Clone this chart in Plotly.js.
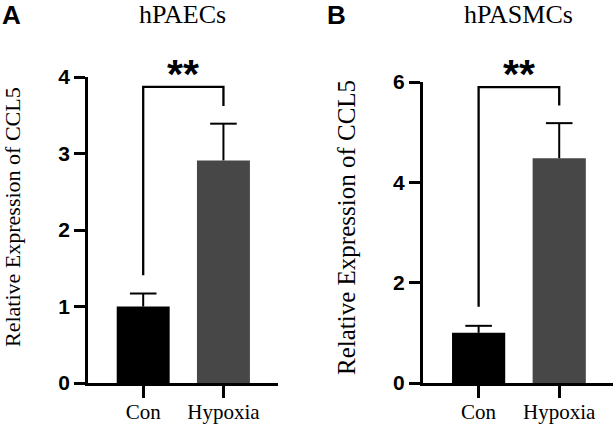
<!DOCTYPE html>
<html>
<head>
<meta charset="utf-8">
<script src="https://cdn.plot.ly/plotly-3.0.1.min.js"></script>
<style>
  html, body { margin: 0; padding: 0; background: #fff; }
  #chart { width: 616px; height: 426px; }
</style>
</head>
<body>
<div id="chart"></div>
<script>
// Relative CCL5 expression, control vs hypoxia (mean and SD)
const groups = ['Con', 'Hypoxia'];

const paecMean = [1.00, 2.91];
const paecSD   = [0.17, 0.48];
const paecTicks = [0, 1, 2, 3, 4];

const pasmcMean = [1.00, 4.48];
const pasmcSD   = [0.14, 0.70];
const pasmcTicks = [0, 2, 4, 6];

// significance brackets: [left leg bottom, bracket top, right leg bottom, star level]
const paecBracket  = [1.41, 3.87, 3.62, 4.12];
const pasmcBracket = [1.52, 5.90, 5.53, 6.27];
const sigLabel = '**';

const barColors = ['#000000', '#474747'];
const serif = 'Liberation Serif, Times New Roman, serif';
const sans = 'Liberation Sans, Arial, sans-serif';

const domA = [0.1009, 0.8192];
const domB = [0.1009, 0.8075];
const starSize = 41;

function barTrace(mean, xa, ya) {
  return {
    type: 'bar',
    x: groups,
    y: mean,
    xaxis: xa,
    yaxis: ya,
    width: 0.66,
    marker: { color: barColors, line: { width: 0 } },
    showlegend: false,
    hoverinfo: 'x+y'
  };
}

// upper SD whisker: a cap marker at mean+SD with a capless stem running down to the bar top
function sdTrace(mean, sd, xa, ya) {
  return {
    type: 'scatter', mode: 'markers',
    x: groups,
    y: mean.map((m, i) => m + sd[i]),
    xaxis: xa,
    yaxis: ya,
    marker: { symbol: 'line-ew', size: 19, color: '#000', line: { width: 2, color: '#000' } },
    error_y: {
      type: 'data', symmetric: false, array: [0, 0], arrayminus: sd,
      color: '#000', thickness: 2, width: 0
    },
    cliponaxis: false,
    showlegend: false,
    hoverinfo: 'skip'
  };
}

function bracketShape(b, xr, yr) {
  return {
    type: 'path', xref: xr, yref: yr,
    path: `M 0,${b[0]} L 0,${b[1]} L 1,${b[1]} L 1,${b[2]}`,
    line: { color: '#000', width: 2.3 }
  };
}

// star sits above the top of the value axis, so place it through the axis mapping in paper units;
// the asterisk glyph rides high in its line box, hence the downward shift
function starNote(b, xr, dom, ticks) {
  const top = ticks[ticks.length - 1];
  return {
    xref: xr, yref: 'paper', x: 0.5, y: dom[0] + (b[3] / top) * (dom[1] - dom[0]),
    yshift: -6,
    text: sigLabel, showarrow: false,
    font: { family: sans, size: starSize, color: '#000', weight: 'bold' },
    xanchor: 'center', yanchor: 'middle'
  };
}

const xBase = {
  type: 'category', showline: true, linewidth: 3, linecolor: '#000',
  ticks: 'outside', ticklen: 12, tickwidth: 3, tickcolor: '#000',
  ticklabelstandoff: -4,
  tickfont: { family: serif, size: 21, color: '#000' },
  showgrid: false, zeroline: false, fixedrange: true
};
function yAxis(ticks, dom, anchor) {
  return {
    showline: true, linewidth: 3, linecolor: '#000',
    ticks: 'outside', ticklen: 11, tickwidth: 3, tickcolor: '#000',
    tickmode: 'array', tickvals: ticks, ticktext: ticks.map(String),
    tickfont: { family: sans, size: 21, color: '#000', weight: 'bold' },
    range: [ticks[0], ticks[ticks.length - 1]], domain: dom, anchor: anchor,
    showgrid: false, zeroline: false, fixedrange: true
  };
}

const layout = {
  width: 616, height: 426,
  margin: { l: 0, r: 0, t: 0, b: 0 },
  paper_bgcolor: '#fff', plot_bgcolor: '#fff',
  xaxis:  Object.assign({}, xBase, { domain: [0.1429, 0.4513], range: [-0.6875, 1.68], anchor: 'y' }),
  yaxis:  yAxis(paecTicks, domA, 'x'),
  xaxis2: Object.assign({}, xBase, { domain: [0.6867, 0.9951], range: [-0.69, 1.667], anchor: 'y2' }),
  yaxis2: yAxis(pasmcTicks, domB, 'x2'),
  shapes: [
    bracketShape(paecBracket, 'x', 'y'),
    bracketShape(pasmcBracket, 'x2', 'y2')
  ],
  annotations: [
    { xref: 'paper', yref: 'paper', x: 11 / 616, y: 1 - 15 / 426, text: 'A', showarrow: false,
      font: { family: sans, size: 26, color: '#000', weight: 'bold' }, xanchor: 'center', yanchor: 'middle' },
    { xref: 'paper', yref: 'paper', x: 336 / 616, y: 1 - 15 / 426, text: 'B', showarrow: false,
      font: { family: sans, size: 26, color: '#000', weight: 'bold' }, xanchor: 'center', yanchor: 'middle' },
    { xref: 'paper', yref: 'paper', x: 183 / 616, y: 1 - 15 / 426, text: 'hPAECs', showarrow: false,
      font: { family: serif, size: 26, color: '#000' }, xanchor: 'center', yanchor: 'middle' },
    { xref: 'paper', yref: 'paper', x: 518 / 616, y: 1 - 15 / 426, text: 'hPASMCs', showarrow: false,
      font: { family: serif, size: 26, color: '#000' }, xanchor: 'center', yanchor: 'middle' },
    { xref: 'paper', yref: 'paper', x: 12 / 616, y: 1 - 217 / 426, text: 'Relative Expression of CCL5',
      textangle: -90, showarrow: false, font: { family: serif, size: 22, color: '#000' },
      xanchor: 'center', yanchor: 'middle' },
    { xref: 'paper', yref: 'paper', x: 347 / 616, y: 1 - 228 / 426, text: 'Relative Expression of CCL5',
      textangle: -90, showarrow: false, font: { family: serif, size: 25, color: '#000' },
      xanchor: 'center', yanchor: 'middle' },
    starNote(paecBracket, 'x', domA, paecTicks),
    starNote(pasmcBracket, 'x2', domB, pasmcTicks)
  ]
};

Plotly.newPlot('chart', [
  barTrace(paecMean, 'x', 'y'),
  barTrace(pasmcMean, 'x2', 'y2'),
  sdTrace(paecMean, paecSD, 'x', 'y'),
  sdTrace(pasmcMean, pasmcSD, 'x2', 'y2')
], layout, { displayModeBar: false, staticPlot: true });
</script>
</body>
</html>
